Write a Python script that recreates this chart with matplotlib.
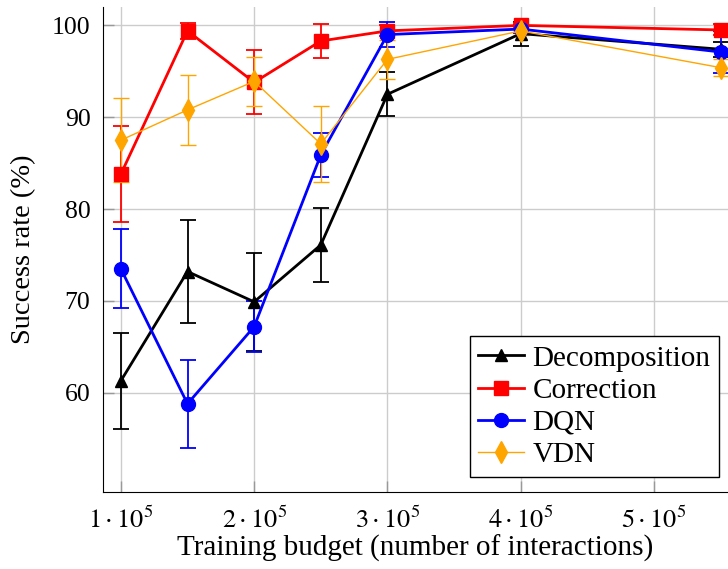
import matplotlib
matplotlib.use("Agg")
import matplotlib.pyplot as plt
import numpy as np

# training budget (x 1e5)
budget = [1.0, 1.5, 2.0, 2.5, 3.0, 4.0, 5.5]

decomp = [61.3, 73.2, 69.9, 76.1, 92.5, 99.1, 97.4]
decomp_err = [5.2, 5.6, 5.3, 4.0, 2.4, 1.3, 0.8]

correction = [83.8, 99.4, 93.8, 98.3, 99.4, 100.0, 99.5]
correction_err = [5.2, 0.9, 3.5, 1.8, 0.6, 0.3, 0.6]

dqn = [73.5, 58.8, 67.2, 85.9, 99.0, 99.6, 97.1]
dqn_err = [4.3, 4.8, 2.8, 2.4, 1.4, 0.4, 2.3]

vdn = [87.5, 90.8, 93.9, 87.1, 96.3, 99.4, 95.4]
vdn_err = [4.6, 3.8, 2.7, 4.1, 2.1, 0.5, 0.9]

xticks = [1, 2, 3, 4, 5]
xticklabels = [r"$%d\cdot10^5$" % v for v in xticks]
yticks = [60, 70, 80, 90, 100]

plt.rcParams.update({'font.family': 'Liberation Serif', 'font.size': 20,
                     'mathtext.fontset': 'stix'})

fig = plt.figure(figsize=(7.28, 5.69), dpi=100)
ax = fig.add_axes([103 / 728, 77 / 569, 625 / 728, 485 / 569])

x = np.array(budget) * 1e5
series = [
    (decomp, decomp_err, 'black', '^', 9, 2.0, 1.3, 'Decomposition'),
    (correction, correction_err, 'red', 's', 10, 2.0, 1.3, 'Correction'),
    (dqn, dqn_err, 'blue', 'o', 10, 2.0, 1.3, 'DQN'),
    (vdn, vdn_err, 'orange', 'd', 11, 1.0, 1.0, 'VDN'),
]
handles = []
for vals, err, col, mk, ms, lw, elw, lab in series:
    c = ax.errorbar(x, vals, yerr=err, color=col, marker=mk, markersize=ms,
                    linewidth=lw, elinewidth=elw, capsize=6, capthick=elw,
                    label=lab, clip_on=False)
    handles.append(c.lines[0])

ax.set_xlim(0.866e5, 5.555e5)
ax.set_ylim(49.2, 102.0)
ax.set_xticks([v * 1e5 for v in xticks])
ax.set_xticklabels(xticklabels, fontsize=19)
ax.set_yticks(yticks)
ax.set_yticklabels([str(v) for v in yticks], fontsize=18.5)

ax.spines['top'].set_visible(False)
ax.spines['right'].set_visible(False)
ax.tick_params(axis='both', direction='in', length=8, color='#999999', width=1)
ax.tick_params(axis='x', pad=11)
ax.tick_params(axis='y', pad=9)
ax.grid(True, color='#cccccc', linewidth=1)
ax.set_axisbelow(True)

ax.set_xlabel("Training budget (number of interactions)", fontsize=21, labelpad=1)
ax.set_ylabel("Success rate (%)", fontsize=20.5, labelpad=11)

leg = ax.legend(handles, [s[-1] for s in series], loc='lower right',
                bbox_to_anchor=(719 / 728, 92 / 569),
                bbox_transform=fig.transFigure, fancybox=False, framealpha=1,
                edgecolor='black', handlelength=1.55, borderpad=0.3,
                borderaxespad=0, labelspacing=0.2, handletextpad=0.3,
                fontsize=21)
leg.get_frame().set_linewidth(1)

plt.savefig("out.png", dpi=100)
